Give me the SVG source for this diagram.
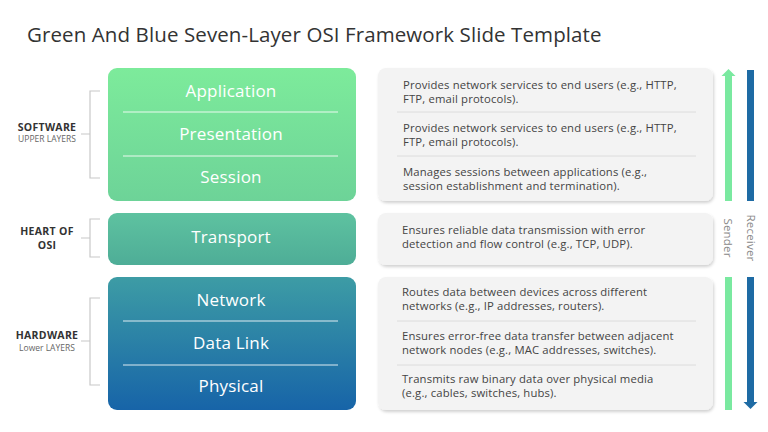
<svg xmlns="http://www.w3.org/2000/svg" width="768" height="432" viewBox="0 0 768 432">
  <defs>
    <linearGradient id="gSoft" x1="0" y1="0" x2="0" y2="1">
      <stop offset="0" stop-color="#7DEB9B"/>
      <stop offset="1" stop-color="#6DD398"/>
    </linearGradient>
    <linearGradient id="gHeart" x1="0" y1="0" x2="0" y2="1">
      <stop offset="0" stop-color="#5EC2A0"/>
      <stop offset="1" stop-color="#4EAD97"/>
    </linearGradient>
    <linearGradient id="gHard" x1="0" y1="0" x2="0" y2="1">
      <stop offset="0" stop-color="#3D9CA5"/>
      <stop offset="1" stop-color="#1764A8"/>
    </linearGradient>
    <filter id="shadow" x="-5%" y="-10%" width="110%" height="125%">
      <feDropShadow dx="1" dy="2" stdDeviation="1.5" flood-color="#000" flood-opacity="0.18"/>
    </filter>
  </defs>
  <style>
    .title { font-family: "Open Sans", "Noto Sans", sans-serif; font-size: 20.5px; font-weight: 500; fill: #333; letter-spacing: 0.1px; }
    .layer { font-family: "Open Sans", "Noto Sans", sans-serif; font-size: 17px; font-weight: 500; fill: #fff; text-anchor: middle; letter-spacing: 0.2px; }
    .sep { stroke: #fff; stroke-width: 1; opacity: 0.85; }
    .desc { font-family: "Open Sans", "Noto Sans", sans-serif; font-size: 11.3px; fill: #444; letter-spacing: 0.15px; }
    .gsep { stroke: #dcdcdc; stroke-width: 1; }
    .card { fill: #f3f3f3; filter: url(#shadow); }
    .bracket { fill: none; stroke: #c8c8c8; stroke-width: 1.2; }
    .grp { font-family: "Open Sans", "Noto Sans", sans-serif; font-size: 10.5px; font-weight: 700; fill: #333; text-anchor: middle; letter-spacing: 0.3px; }
    .sub { font-family: "Open Sans", "Noto Sans", sans-serif; font-size: 8.5px; fill: #666; text-anchor: middle; }
    .vlabel { font-family: "Open Sans", "Noto Sans", sans-serif; font-size: 11.5px; fill: #888; text-anchor: middle; letter-spacing: 0.2px; }
  </style>
  <rect width="768" height="432" fill="#ffffff"/>

  <text class="title" x="27" y="42">Green And Blue Seven-Layer OSI Framework Slide Template</text>

  <g id="software-bracket">
    <path class="bracket" d="M100 91 H90 V178 H100 M90 134 H81"/>
    <text class="grp" x="47" y="131">SOFTWARE</text>
    <text class="sub" x="47" y="142">UPPER LAYERS</text>
  </g>
  <g id="heart-bracket">
    <path class="bracket" d="M100 219 H90 V257 H100 M90 238 H81"/>
    <text class="grp" x="47" y="235">HEART OF</text>
    <text class="grp" x="47" y="249">OSI</text>
  </g>
  <g id="hardware-bracket">
    <path class="bracket" d="M100 298 H90 V385 H100 M90 341 H81"/>
    <text class="grp" x="47" y="339">HARDWARE</text>
    <text class="sub" x="47" y="351">Lower LAYERS</text>
  </g>

  <g id="software-layers">
    <rect x="108" y="68" width="248" height="133" rx="9" fill="url(#gSoft)"/>
    <line class="sep" x1="123" y1="112" x2="338" y2="112"/>
    <line class="sep" x1="123" y1="156" x2="338" y2="156"/>
    <text class="layer" x="231" y="97">Application</text>
    <text class="layer" x="231" y="140">Presentation</text>
    <text class="layer" x="231" y="183">Session</text>
  </g>
  <g id="transport-layer">
    <rect x="108" y="213" width="248" height="52" rx="9" fill="url(#gHeart)"/>
    <text class="layer" x="231" y="243">Transport</text>
  </g>
  <g id="hardware-layers">
    <rect x="108" y="277" width="248" height="133" rx="9" fill="url(#gHard)"/>
    <line class="sep" x1="123" y1="321" x2="338" y2="321"/>
    <line class="sep" x1="123" y1="365" x2="338" y2="365"/>
    <text class="layer" x="231" y="306">Network</text>
    <text class="layer" x="231" y="349">Data Link</text>
    <text class="layer" x="231" y="392">Physical</text>
  </g>

  <g id="software-desc">
    <rect class="card" x="378" y="68" width="335" height="133" rx="8"/>
    <line class="gsep" x1="397" y1="112" x2="696" y2="112"/>
    <line class="gsep" x1="397" y1="156" x2="696" y2="156"/>
    <text class="desc" x="403" y="89">Provides network services to end users (e.g., HTTP,</text>
    <text class="desc" x="403" y="103">FTP, email protocols).</text>
    <text class="desc" x="403" y="132">Provides network services to end users (e.g., HTTP,</text>
    <text class="desc" x="403" y="146">FTP, email protocols).</text>
    <text class="desc" x="403" y="176">Manages sessions between applications (e.g.,</text>
    <text class="desc" x="403" y="190">session establishment and termination).</text>
  </g>
  <g id="transport-desc">
    <rect class="card" x="378" y="213" width="335" height="52" rx="8"/>
    <text class="desc" x="402" y="234">Ensures reliable data transmission with error</text>
    <text class="desc" x="402" y="248">detection and flow control (e.g., TCP, UDP).</text>
  </g>
  <g id="hardware-desc">
    <rect class="card" x="378" y="277" width="335" height="133" rx="8"/>
    <line class="gsep" x1="397" y1="321" x2="696" y2="321"/>
    <line class="gsep" x1="397" y1="365" x2="696" y2="365"/>
    <text class="desc" x="402" y="296">Routes data between devices across different</text>
    <text class="desc" x="402" y="310">networks (e.g., IP addresses, routers).</text>
    <text class="desc" x="402" y="340">Ensures error-free data transfer between adjacent</text>
    <text class="desc" x="402" y="354">network nodes (e.g., MAC addresses, switches).</text>
    <text class="desc" x="402" y="383">Transmits raw binary data over physical media</text>
    <text class="desc" x="402" y="397">(e.g., cables, switches, hubs).</text>
  </g>

  <g id="connectors">
    <g id="sender-arrow" fill="#7AE9A0">
      <rect x="725" y="74" width="7" height="127"/>
      <polygon points="721.5,76 728.5,69 735.5,76"/>
      <rect x="725" y="277" width="7" height="133"/>
    </g>
    <g id="receiver-arrow" fill="#1E6BA4">
      <rect x="747" y="70" width="7" height="131"/>
      <rect x="747" y="277" width="7" height="126"/>
      <polygon points="743.5,402 750.5,409 757.5,402"/>
    </g>
  </g>
  <text class="vlabel" transform="translate(728,238) rotate(90)" y="4">Sender</text>
  <text class="vlabel" transform="translate(751,238) rotate(90)" y="4">Receiver</text>
</svg>
